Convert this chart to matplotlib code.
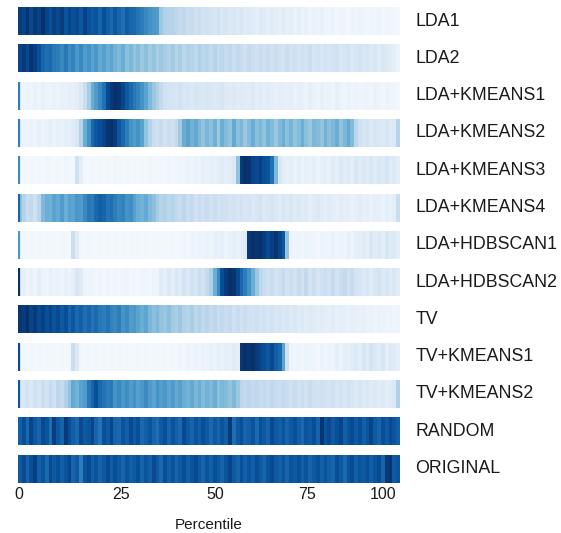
import numpy as np
import matplotlib
matplotlib.use('Agg')
import matplotlib.pyplot as plt
from matplotlib import colors

plt.rcParams['font.family'] = ['Liberation Sans', 'DejaVu Sans']

# intensity per percentile bin (0-100)
lda1 = [95, 92, 98, 90, 96, 93, 99, 92, 88, 94,
        90, 95, 86, 92, 88, 90, 85, 93, 87, 84,
        86, 80, 88, 82, 78, 85, 80, 76, 83, 79,
        78, 74, 70, 66, 62, 60, 58, 38, 32, 30,
        30, 28, 25, 27, 22, 24, 20, 22, 18, 20,
        18, 16, 20, 15, 17, 14, 16, 13, 15, 12,
        14, 12, 10, 13, 11, 9, 12, 10, 8, 11,
        8, 10, 7, 9, 6, 8, 5, 7, 6, 8,
        5, 4, 6, 3, 5, 4, 3, 5, 4, 6,
        4, 3, 5, 4, 6, 3, 5, 4, 3, 2]
lda2 = [92, 96, 90, 98, 94, 88, 80, 76, 78, 72,
        70, 66, 72, 64, 68, 60, 66, 58, 62, 55,
        60, 52, 56, 50, 54, 48, 45, 50, 42, 46,
        40, 44, 38, 42, 36, 40, 34, 38, 35, 32,
        36, 30, 34, 28, 32, 30, 27, 33, 28, 30,
        26, 30, 25, 28, 24, 27, 22, 26, 24, 21,
        25, 22, 20, 24, 21, 23, 19, 22, 20, 18,
        22, 19, 21, 17, 20, 18, 22, 17, 19, 16,
        19, 16, 18, 20, 15, 17, 19, 14, 16, 18,
        15, 17, 14, 16, 12, 15, 13, 11, 10, 6]
lda_km1 = [5, 5, 6, 5, 7, 5, 8, 6, 5, 7,
           6, 8, 7, 9, 8, 10, 14, 22, 35, 50,
           58, 66, 75, 90, 96, 100, 98, 92, 84, 78,
           72, 68, 62, 55, 45, 38, 32, 26, 20, 18,
           17, 16, 18, 15, 16, 14, 17, 15, 14, 16,
           15, 13, 14, 16, 13, 12, 14, 11, 13, 12,
           11, 13, 10, 12, 9, 11, 10, 8, 10, 9,
           8, 10, 7, 9, 8, 6, 9, 7, 5, 8,
           6, 7, 5, 8, 6, 4, 7, 5, 6, 4,
           5, 6, 4, 7, 5, 3, 6, 4, 5, 3]
lda_km2 = [6, 6, 5, 7, 5, 8, 6, 7, 9, 6,
           8, 7, 10, 9, 12, 15, 30, 50, 62, 78,
           85, 88, 92, 98, 100, 95, 85, 78, 70, 62,
           58, 62, 55, 40, 30, 22, 20, 24, 18, 22,
           20, 26, 36, 50, 55, 48, 52, 45, 40, 46,
           42, 48, 38, 50, 44, 40, 52, 42, 46, 38,
           44, 50, 42, 46, 40, 48, 44, 38, 45, 50,
           42, 47, 40, 44, 50, 42, 38, 46, 44, 40,
           48, 42, 45, 50, 40, 46, 52, 44, 28, 20,
           16, 18, 14, 17, 15, 13, 16, 12, 14, 30]
lda_km3 = [3, 3, 2, 3, 2, 3, 2, 4, 3, 2,
           3, 2, 4, 3, 3, 20, 10, 3, 2, 3,
           2, 3, 2, 3, 2, 4, 3, 2, 3, 2,
           3, 2, 3, 2, 4, 3, 2, 3, 3, 4,
           3, 4, 5, 4, 6, 5, 7, 6, 8, 7,
           9, 8, 10, 12, 9, 11, 14, 40, 95, 100,
           98, 92, 90, 94, 88, 86, 75, 45, 15, 10,
           8, 10, 7, 9, 6, 8, 7, 9, 6, 8,
           10, 7, 12, 9, 14, 11, 13, 10, 15, 12,
           14, 11, 16, 12, 15, 13, 17, 12, 14, 10]
lda_km4 = [40, 30, 22, 26, 20, 28, 45, 50, 48, 55,
           52, 58, 50, 56, 54, 60, 58, 66, 72, 70,
           78, 82, 80, 74, 76, 70, 66, 68, 62, 64,
           56, 50, 48, 52, 45, 42, 35, 30, 32, 28,
           30, 26, 24, 28, 22, 25, 20, 23, 21, 24,
           19, 22, 18, 21, 20, 17, 19, 16, 18, 15,
           17, 14, 16, 18, 13, 15, 17, 14, 12, 16,
           13, 15, 12, 14, 11, 13, 10, 12, 14, 11,
           9, 12, 10, 8, 11, 9, 10, 7, 9, 11,
           8, 10, 7, 9, 8, 6, 9, 7, 10, 22]
lda_hdb1 = [3, 3, 2, 3, 2, 3, 2, 3, 2, 3,
            2, 3, 3, 2, 22, 12, 3, 2, 3, 2,
            2, 3, 2, 3, 2, 3, 2, 3, 2, 3,
            2, 3, 2, 3, 2, 3, 2, 3, 3, 2,
            3, 2, 3, 4, 3, 5, 4, 6, 5, 7,
            6, 8, 7, 9, 6, 8, 10, 7, 9, 12,
            96, 100, 98, 100, 95, 90, 94, 98, 92, 85,
            40, 6, 4, 5, 3, 6, 4, 5, 3, 6,
            4, 5, 7, 4, 6, 5, 8, 6, 9, 10,
            12, 9, 15, 11, 14, 10, 16, 12, 14, 10]
lda_hdb2 = [8, 8, 5, 7, 4, 9, 6, 5, 8, 6,
            7, 5, 8, 6, 9, 15, 12, 6, 4, 5,
            3, 4, 3, 5, 3, 4, 3, 4, 5, 3,
            4, 3, 5, 4, 3, 6, 5, 12, 8, 14,
            10, 15, 12, 18, 14, 20, 16, 22, 18, 25,
            32, 50, 65, 88, 95, 100, 98, 90, 78, 70,
            62, 50, 38, 28, 24, 20, 23, 18, 21, 25,
            19, 22, 18, 24, 20, 26, 18, 22, 17, 21,
            23, 19, 25, 18, 22, 26, 20, 24, 18, 16,
            14, 17, 12, 15, 18, 13, 16, 12, 15, 11]
tv = [98, 95, 100, 92, 96, 90, 94, 88, 92, 86,
      90, 84, 88, 80, 85, 78, 82, 76, 80, 74,
      78, 72, 70, 74, 68, 66, 70, 62, 65, 58,
      60, 55, 50, 54, 46, 42, 45, 40, 38, 42,
      36, 34, 38, 32, 30, 34, 28, 31, 26, 29,
      25, 28, 23, 26, 22, 25, 20, 23, 19, 22,
      20, 18, 21, 17, 19, 16, 18, 15, 17, 14,
      16, 13, 15, 12, 14, 11, 13, 12, 10, 12,
      10, 9, 11, 8, 10, 9, 7, 9, 8, 7,
      8, 6, 7, 5, 7, 6, 5, 6, 4, 5]
tv_km1 = [3, 3, 2, 3, 2, 3, 2, 3, 2, 3,
          2, 3, 2, 3, 22, 14, 3, 2, 3, 2,
          3, 2, 3, 2, 3, 2, 3, 2, 3, 2,
          2, 3, 2, 3, 2, 3, 3, 2, 3, 2,
          3, 2, 4, 3, 5, 4, 6, 5, 7, 6,
          8, 6, 9, 7, 10, 8, 12, 9, 96, 100,
          98, 100, 95, 92, 88, 85, 90, 82, 78, 55,
          20, 6, 4, 5, 3, 6, 4, 5, 3, 6,
          4, 6, 5, 8, 6, 10, 8, 12, 14, 10,
          16, 12, 18, 14, 12, 16, 10, 14, 12, 9]
tv_km2 = [15, 15, 18, 14, 20, 16, 22, 18, 25, 20,
          28, 24, 32, 40, 52, 48, 55, 58, 72, 80,
          88, 78, 74, 70, 72, 62, 66, 60, 64, 58,
          62, 56, 60, 65, 58, 55, 62, 57, 60, 54,
          58, 52, 56, 50, 48, 52, 46, 50, 44, 48,
          45, 50, 42, 46, 44, 40, 45, 38, 28, 26,
          28, 25, 27, 24, 26, 23, 27, 24, 22, 25,
          23, 21, 24, 20, 22, 19, 23, 20, 18, 21,
          19, 17, 20, 16, 18, 15, 19, 16, 14, 17,
          13, 15, 12, 14, 11, 13, 10, 12, 14, 32]
random_ = [82, 88, 78, 92, 84, 80, 90, 86, 76, 94,
           85, 80, 96, 88, 82, 78, 90, 84, 86, 92,
           80, 74, 88, 84, 92, 80, 78, 86, 82, 90,
           84, 88, 78, 82, 86, 80, 76, 84, 88, 80,
           86, 82, 78, 90, 84, 80, 86, 82, 88, 84,
           78, 84, 80, 86, 82, 96, 76, 84, 88, 80,
           82, 86, 78, 88, 84, 80, 90, 84, 82, 86,
           80, 84, 88, 82, 78, 86, 84, 88, 80, 98,
           86, 90, 84, 88, 92, 82, 86, 90, 84, 88,
           82, 86, 92, 84, 80, 88, 84, 90, 86, 82]
original = [84, 90, 80, 88, 94, 82, 86, 78, 90, 84,
            88, 82, 86, 92, 80, 84, 70, 86, 90, 82,
            86, 80, 84, 90, 82, 88, 84, 80, 86, 82,
            84, 88, 80, 86, 82, 90, 84, 78, 88, 82,
            86, 80, 84, 88, 82, 86, 90, 84, 80, 86,
            82, 88, 84, 80, 86, 92, 84, 80, 88, 82,
            86, 82, 88, 84, 80, 86, 90, 84, 82, 86,
            80, 86, 84, 88, 82, 86, 80, 84, 88, 82,
            86, 82, 80, 88, 84, 78, 86, 90, 82, 86,
            84, 88, 82, 86, 90, 80, 96, 98, 84, 86]

methods = ['LDA1', 'LDA2', 'LDA+KMEANS1', 'LDA+KMEANS2', 'LDA+KMEANS3',
           'LDA+KMEANS4', 'LDA+HDBSCAN1', 'LDA+HDBSCAN2', 'TV', 'TV+KMEANS1',
           'TV+KMEANS2', 'RANDOM', 'ORIGINAL']
rows = [lda1, lda2, lda_km1, lda_km2, lda_km3, lda_km4, lda_hdb1, lda_hdb2,
        tv, tv_km1, tv_km2, random_, original]
# value of the thin first cell at 0 (0 = none)
first_cell = [0, 0, 70, 70, 65, 80, 60, 100, 0, 90, 85, 0, 0]

tick_pos = [0.3, 26.9, 51.6, 75.6, 95.5]
tick_lab = ['0', '25', '50', '75', '100']

W, H = 561, 533
fig = plt.figure(figsize=(W / 100, H / 100), dpi=100)
cmap = plt.get_cmap('Blues')
norm = colors.Normalize(0, 100)

x0, x1 = 18, 400
top0, h, pitch = 7, 28, 37.3

for i, (name, vals, fc) in enumerate(zip(methods, rows, first_cell)):
    y = top0 + i * pitch
    ax = fig.add_axes([x0 / W, 1 - (y + h) / H, (x1 - x0) / W, h / H])
    ax.imshow(np.array(vals)[None, :], cmap=cmap, norm=norm, aspect='auto',
              extent=[0, 100, 0, 1], interpolation='nearest')
    if fc:
        ax.axvline(0.2, color=cmap(norm(fc)), lw=1.6)
    ax.set_xlim(0, 100)
    ax.set_ylim(0, 1)
    ax.set_yticks([])
    for s in ax.spines.values():
        s.set_visible(False)
    ax.text(1.04, 0.5, name, transform=ax.transAxes, ha='left', va='center',
            fontsize=12.8, color='#1a1a1a', clip_on=False)
    if i == len(methods) - 1:
        ax.set_xticks(tick_pos)
        ax.set_xticklabels(tick_lab, fontsize=11.5, color='#1a1a1a')
        ax.tick_params(axis='x', length=0, pad=3)
        ax.set_xlabel('Percentile', fontsize=11, color='#1a1a1a', labelpad=12)
    else:
        ax.set_xticks([])

fig.savefig('out.png', dpi=100)
